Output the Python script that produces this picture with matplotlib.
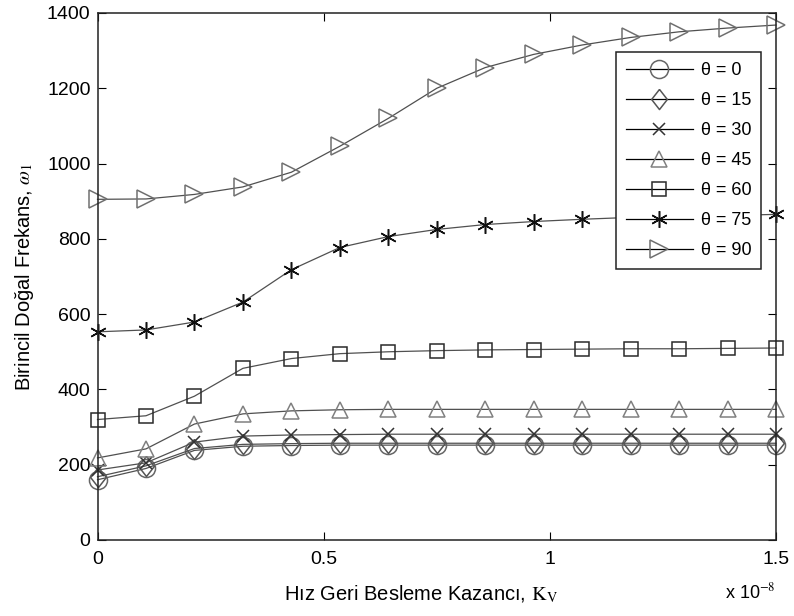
import matplotlib

matplotlib.use("Agg")
import matplotlib.pyplot as plt
import numpy as np

# gain axis in units of 1e-8
kv = np.linspace(0.0, 1.5, 15)

theta_labels = ["θ = 0", "θ = 15", "θ = 30", "θ = 45", "θ = 60", "θ = 75", "θ = 90"]

w_theta0 = [160, 190, 238, 249, 251, 252, 252, 252, 252, 252, 252, 252, 252, 252, 252]
w_theta15 = [168, 197, 243, 254, 256, 257, 257, 257, 257, 257, 257, 257, 257, 257, 257]
w_theta30 = [186, 205, 260, 276, 279, 280, 281, 281, 281, 281, 281, 281, 281, 281, 281]
w_theta45 = [218, 242, 308, 335, 343, 346, 347, 347, 347, 347, 347, 347, 347, 347, 347]
w_theta60 = [320, 330, 382, 456, 482, 495, 500, 503, 505, 506, 507, 508, 508, 509, 510]
w_theta75 = [553, 558, 579, 632, 718, 777, 806, 825, 838, 846, 852, 857, 860, 862, 865]
w_theta90 = [905, 906, 918, 938, 977, 1046, 1120, 1200, 1255, 1290, 1315, 1335, 1350, 1360, 1368]

series = [w_theta0, w_theta15, w_theta30, w_theta45, w_theta60, w_theta75, w_theta90]

# matlab style diamond is taller than wide
tall_diamond = [(0, 1), (0.78, 0), (0, -1), (-0.78, 0), (0, 1)]
markers = ["o", tall_diamond, "x", "^", "s", (6, 2, 0), ">"]
marker_colors = ["#666666", "#555555", "#333333", "#808080", "#2a2a2a", "#111111", "#707070"]
marker_sizes = [13, 14.5, 8, 11, 9.5, 12, 12.5]

plt.rcParams["font.family"] = ["Liberation Sans", "DejaVu Sans"]
plt.rcParams["mathtext.fontset"] = "stix"

fig = plt.figure(figsize=(7.94, 6.16), dpi=100)
ax = fig.add_axes([0.1228, 0.1234, 0.8545, 0.8555])

for values, label, mk, mc, ms in zip(series, theta_labels, markers, marker_colors, marker_sizes):
    ax.plot(
        kv,
        values,
        color="#505050",
        linewidth=0.9,
        marker=mk,
        markersize=ms,
        markerfacecolor="none",
        markeredgecolor=mc,
        markeredgewidth=1.1,
        label=label,
        clip_on=False,
    )

ax.set_xlim(0, 1.5)
ax.set_ylim(0, 1400)
ax.set_xticks([0, 0.5, 1, 1.5])
ax.set_xticklabels(["0", "0.5", "1", "1.5"])
ax.set_yticks(np.arange(0, 1401, 200))
ax.tick_params(direction="in", top=True, right=True, length=6, labelsize=14)
ax.tick_params(axis="x", pad=8)
ax.tick_params(axis="y", pad=5)
for side in ax.spines.values():
    side.set_linewidth(1.1)
    side.set_color("#222222")

ax.set_xlabel(r"Hız Geri Besleme Kazancı, $\mathrm{K_V}$", fontsize=14.5)
ax.xaxis.set_label_coords(0.477, -0.082)
ax.set_ylabel(r"Birincil Doğal Frekans, $\omega_1$", fontsize=14.5, labelpad=8)
ax.text(1.0, -0.1, r"x 10$^{-8}$", transform=ax.transAxes, ha="right", va="center", fontsize=13)

leg = ax.legend(
    loc="upper left",
    bbox_to_anchor=(616 / 794, 1 - 52 / 616),
    bbox_transform=fig.transFigure,
    borderaxespad=0,
    fontsize=13,
    frameon=True,
    fancybox=False,
    framealpha=1,
    edgecolor="#222222",
    handlelength=3.7,
    labelspacing=0.72,
    borderpad=0.55,
    handletextpad=0.45,
)
leg.get_frame().set_linewidth(1.1)
for line in leg.get_lines():
    line.set_color("black")

fig.savefig("out.png", dpi=100)
